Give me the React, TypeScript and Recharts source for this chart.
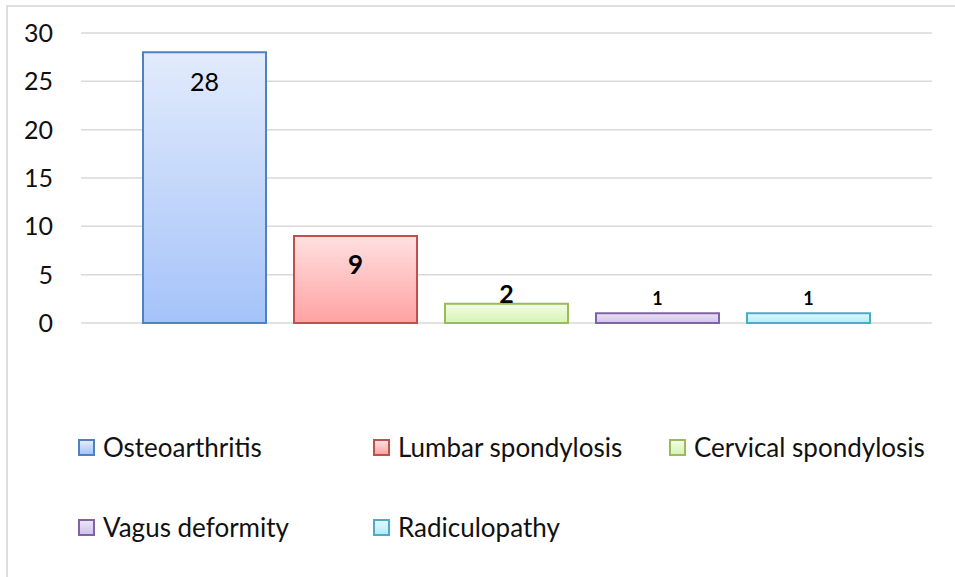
import { BarChart, Bar, XAxis, YAxis, CartesianGrid, LabelList } from 'recharts';

const seriesNames = ['Osteoarthritis', 'Lumbar spondylosis', 'Cervical spondylosis', 'Vagus deformity', 'Radiculopathy'];
const seriesValues = [28, 9, 2, 1, 1];
const yTicks = [0, 5, 10, 15, 20, 25, 30];

const strokes = ['#4f81bd', '#c0504d', '#9bbb59', '#8064a2', '#4bacc6'];
const topColors = ['#e2ebfc', '#ffe0e0', '#f3fce6', '#ebe4f6', '#e2f8ff'];
const bottomColors = ['#a5c3f9', '#ffa2a2', '#d6f4b3', '#d1c2ea', '#b4ebfb'];

// single category, one series per diagnosis (as in the Excel original)
const row: Record<string, number | string> = { name: 'all' };
seriesNames.forEach((n, i) => {
  row[`s${i}`] = seriesValues[i];
});
const data = [row];

const font = 'Lato, "Open Sans", sans-serif';

// label look per series: [position, offset, fontSize, weight]
const labelStyles: [string, number, number, number][] = [
  ['insideTop', 21, 25, 400],
  ['insideTop', 20, 26, 700],
  ['top', 1, 25, 700],
  ['top', 8, 18, 700],
  ['top', 8, 18, 700],
];

export default function App() {
  return (
    <div style={{ position: 'fixed', left: 0, top: 0, width: 955, height: 577, overflow: 'hidden', background: '#fff', fontFamily: font }}>
      <div
        style={{
          position: 'absolute',
          left: 6,
          top: 5,
          width: 960,
          height: 580,
          borderLeft: '2px solid #dedede',
          borderTop: '2px solid #dedede',
        }}
      />
      <div style={{ position: 'absolute', left: 0, top: 0 }}>
        <BarChart
          width={955}
          height={577}
          data={data}
          margin={{ top: 33, right: 23, left: 0, bottom: 254 }}
          barSize={123}
          barGap={28}
        >
          <defs>
            {seriesNames.map((_, i) => (
              <linearGradient key={i} id={`grad${i}`} x1="0" y1="0" x2="0" y2="1">
                <stop offset="0%" stopColor={topColors[i]} />
                <stop offset="100%" stopColor={bottomColors[i]} />
              </linearGradient>
            ))}
          </defs>
          <CartesianGrid horizontal vertical={false} stroke="#d9d9d9" strokeWidth={1.5} />
          <XAxis dataKey="name" hide />
          <YAxis
            width={81}
            domain={[0, 30]}
            ticks={yTicks}
            axisLine={false}
            tickLine={false}
            tickSize={0}
            tickMargin={28}
            tick={{ fill: '#111', fontSize: 25, fontFamily: font }}
          />
          {seriesNames.map((n, i) => (
            <Bar
              key={n}
              dataKey={`s${i}`}
              name={n}
              fill={`url(#grad${i})`}
              stroke={strokes[i]}
              strokeWidth={2}
              isAnimationActive={false}
            >
              <LabelList
                dataKey={`s${i}`}
                position={labelStyles[i][0] as any}
                offset={labelStyles[i][1]}
                fill="#000"
                fontSize={labelStyles[i][2]}
                fontWeight={labelStyles[i][3]}
                fontFamily={font}
              />
            </Bar>
          ))}
        </BarChart>
      </div>
      <div
        style={{
          position: 'absolute',
          left: 78,
          top: 429,
          display: 'grid',
          gridTemplateColumns: '295px 296px auto',
          rowGap: 44,
          fontSize: 26,
          color: '#111',
          lineHeight: '36px',
        }}
      >
        {seriesNames.map((n, i) => (
          <div key={n} style={{ display: 'flex', alignItems: 'center', height: 36 }}>
            <span
              style={{
                display: 'inline-block',
                width: 13,
                height: 13,
                border: `2px solid ${strokes[i]}`,
                background: `linear-gradient(${topColors[i]}, ${bottomColors[i]})`,
                marginRight: 8,
              }}
            />
            <span>{n}</span>
          </div>
        ))}
      </div>
    </div>
  );
}
